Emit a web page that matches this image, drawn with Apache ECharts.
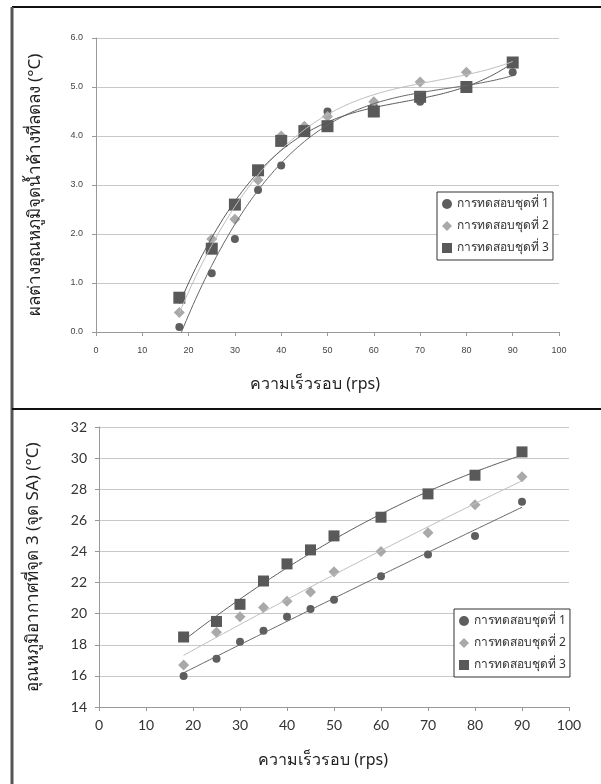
<!DOCTYPE html>
<html>
<head>
<meta charset="utf-8">
<script src="https://cdn.jsdelivr.net/npm/echarts@6/dist/echarts.min.js"></script>
<style>
html,body{margin:0;padding:0;background:#fff;}
#c{width:601px;height:784px;}
</style>
</head>
<body>
<div id="c"></div>
<script>
// ---- data ----
const seriesNames = ['การทดสอบชุดที่ 1', 'การทดสอบชุดที่ 2', 'การทดสอบชุดที่ 3'];
const xTitle = 'ความเร็วรอบ (rps)';
const yTitleTop = 'ผลต่างอุณหภูมิจุดน้ำค้างที่ลดลง (°C)';
const yTitleBottom = 'อุณหภูมิอากาศที่จุด 3 (จุด SA) (°C)';

const speeds = [18, 25, 30, 35, 40, 45, 50, 60, 70, 80, 90];

// top chart: dew point difference
const topSet1 = [0.1, 1.2, 1.9, 2.9, 3.4, 4.1, 4.5, 4.6, 4.7, 5.0, 5.3];
const topSet2 = [0.4, 1.9, 2.3, 3.1, 4.0, 4.2, 4.4, 4.7, 5.1, 5.3, 5.5];
const topSet3 = [0.7, 1.7, 2.6, 3.3, 3.9, 4.1, 4.2, 4.5, 4.8, 5.0, 5.5];

// bottom chart: air temperature at point 3 (SA)
const botSet1 = [16.0, 17.1, 18.2, 18.9, 19.8, 20.3, 20.9, 22.4, 23.8, 25.0, 27.2];
const botSet2 = [16.7, 18.8, 19.8, 20.4, 20.8, 21.4, 22.7, 24.0, 25.2, 27.0, 28.8];
const botSet3 = [18.5, 19.5, 20.6, 22.1, 23.2, 24.1, 25.0, 26.2, 27.7, 28.9, 30.4];

// ---- least squares polynomial trendline (like the spreadsheet trendline) ----
function polyfit(xs, ys, order) {
  const n = order + 1;
  const s = v => v / 100;
  const A = [], b = [];
  for (let i = 0; i < n; i++) {
    A.push(new Array(n).fill(0)); b.push(0);
  }
  for (let k = 0; k < xs.length; k++) {
    const x = s(xs[k]);
    for (let i = 0; i < n; i++) {
      b[i] += ys[k] * Math.pow(x, i);
      for (let j = 0; j < n; j++) A[i][j] += Math.pow(x, i + j);
    }
  }
  for (let i = 0; i < n; i++) {
    let p = i;
    for (let r = i + 1; r < n; r++) if (Math.abs(A[r][i]) > Math.abs(A[p][i])) p = r;
    [A[i], A[p]] = [A[p], A[i]]; [b[i], b[p]] = [b[p], b[i]];
    for (let r = i + 1; r < n; r++) {
      const f = A[r][i] / A[i][i];
      for (let c = i; c < n; c++) A[r][c] -= f * A[i][c];
      b[r] -= f * b[i];
    }
  }
  const coef = new Array(n).fill(0);
  for (let i = n - 1; i >= 0; i--) {
    let v = b[i];
    for (let c = i + 1; c < n; c++) v -= A[i][c] * coef[c];
    coef[i] = v / A[i][i];
  }
  return x => coef.reduce((acc, c, i) => acc + c * Math.pow(s(x), i), 0);
}
function trend(xs, ys, order) {
  const f = polyfit(xs, ys, order);
  const out = [];
  const x0 = xs[0], x1 = xs[xs.length - 1];
  for (let x = x0; x <= x1 + 1e-9; x += 0.5) out.push([x, f(x)]);
  return out;
}
const pairs = (xs, ys) => xs.map((x, i) => [x, ys[i]]);

const markerColors = ['#5e5e5e', '#a9a9a9', '#595959'];
const lineColors = ['#666666', '#bdbdbd', '#5a5a5a'];
const symbols = ['circle', 'diamond', 'rect'];
const thai = '"Noto Sans", "DejaVu Sans", sans-serif';

const topData = [topSet1, topSet2, topSet3];
const botData = [botSet1, botSet2, botSet3];
const topSizes = [8, 11, 12];
const botSizes = [8, 11, 11];

const series = [];
topData.forEach((d, i) => series.push({
  type: 'line', name: 'trendTop' + i, xAxisIndex: 0, yAxisIndex: 0,
  data: trend(speeds, d, 3), showSymbol: false, silent: true,
  lineStyle: { color: lineColors[i], width: 1 }, z: 3
}));
botData.forEach((d, i) => series.push({
  type: 'line', name: 'trendBot' + i, xAxisIndex: 1, yAxisIndex: 1,
  data: trend(speeds, d, 2), showSymbol: false, silent: true,
  lineStyle: { color: lineColors[i], width: 1 }, z: 3
}));
topData.forEach((d, i) => series.push({
  type: 'scatter', name: seriesNames[i], xAxisIndex: 0, yAxisIndex: 0,
  data: pairs(speeds, d), symbol: symbols[i], symbolSize: topSizes[i],
  itemStyle: { color: markerColors[i], opacity: 1 }, z: 2
}));
botData.forEach((d, i) => series.push({
  type: 'scatter', name: seriesNames[i], xAxisIndex: 1, yAxisIndex: 1,
  data: pairs(speeds, d), symbol: symbols[i], symbolSize: botSizes[i],
  itemStyle: { color: markerColors[i], opacity: 1 }, z: 2
}));

function legendAt(left, top, fs) {
  return {
    orient: 'vertical', left: left, top: top,
    data: seriesNames.map((n, i) => ({ name: n, icon: symbols[i] })),
    itemWidth: 10, itemHeight: 10, itemGap: 8,
    borderColor: '#333', borderWidth: 1, padding: [5, 4, 5, 5],
    backgroundColor: '#fff',
    textStyle: { fontFamily: thai, fontSize: fs, color: '#333', lineHeight: 14 },
    selectedMode: false
  };
}

const chart = echarts.init(document.getElementById('c'), null, { renderer: 'canvas' });
chart.setOption({
  animation: false,
  backgroundColor: '#fff',
  grid: [
    { left: 96, top: 38, width: 463, height: 294 },
    { left: 99, top: 427, width: 470, height: 280 }
  ],
  legend: [legendAt(437, 192, 12), legendAt(454, 609, 12)],
  xAxis: [
    {
      gridIndex: 0, type: 'value', min: 0, max: 100, interval: 10,
      axisLine: { show: true, lineStyle: { color: '#999' } },
      axisTick: { show: true, length: 4, lineStyle: { color: '#999' } },
      splitLine: { show: false },
      axisLabel: { fontFamily: 'Liberation Sans, Arial', fontSize: 9, color: '#444', margin: 14 }
    },
    {
      gridIndex: 1, type: 'value', min: 0, max: 100, interval: 10,
      axisLine: { show: true, lineStyle: { color: '#999' } },
      axisTick: { show: true, length: 4, lineStyle: { color: '#999' } },
      splitLine: { show: false },
      axisLabel: { fontFamily: 'Lato, "Open Sans", sans-serif', fontSize: 14, color: '#333', margin: 11 }
    }
  ],
  yAxis: [
    {
      gridIndex: 0, type: 'value', min: 0, max: 6, interval: 1,
      axisLine: { show: true, lineStyle: { color: '#999' } },
      axisTick: { show: true, length: 4, lineStyle: { color: '#999' } },
      splitLine: { show: true, lineStyle: { color: '#c8c8c8' } },
      axisLabel: { fontFamily: 'Liberation Sans, Arial', fontSize: 9, color: '#444', margin: 13,
        formatter: v => v.toFixed(1) },
      name: yTitleTop, nameLocation: 'middle', nameGap: 52,
      nameTextStyle: { fontFamily: thai, fontSize: 17, color: '#222' }
    },
    {
      gridIndex: 1, type: 'value', min: 14, max: 32, interval: 2,
      axisLine: { show: true, lineStyle: { color: '#999' } },
      axisTick: { show: true, length: 4, lineStyle: { color: '#999' } },
      splitLine: { show: true, lineStyle: { color: '#c8c8c8' } },
      axisLabel: { fontFamily: 'Lato, "Open Sans", sans-serif', fontSize: 14, color: '#333', margin: 12 },
      name: yTitleBottom, nameLocation: 'middle', nameGap: 57,
      nameTextStyle: { fontFamily: thai, fontSize: 17, color: '#222' }
    }
  ],
  graphic: [
    { type: 'line', shape: { x1: 12, y1: 7, x2: 601, y2: 7 }, style: { stroke: '#111', lineWidth: 2 } },
    { type: 'line', shape: { x1: 12, y1: 7, x2: 12, y2: 784 }, style: { stroke: '#555', lineWidth: 3 } },
    { type: 'line', shape: { x1: 12, y1: 409, x2: 601, y2: 409 }, style: { stroke: '#111', lineWidth: 2 } },
    { type: 'text', x: 315, y: 384, style: { text: xTitle, align: 'center', verticalAlign: 'middle', fontSize: 16, fontFamily: thai, fill: '#222' } },
    { type: 'text', x: 323, y: 760, style: { text: xTitle, align: 'center', verticalAlign: 'middle', fontSize: 16, fontFamily: thai, fill: '#222' } }
  ],
  series: series
});
</script>
</body>
</html>
